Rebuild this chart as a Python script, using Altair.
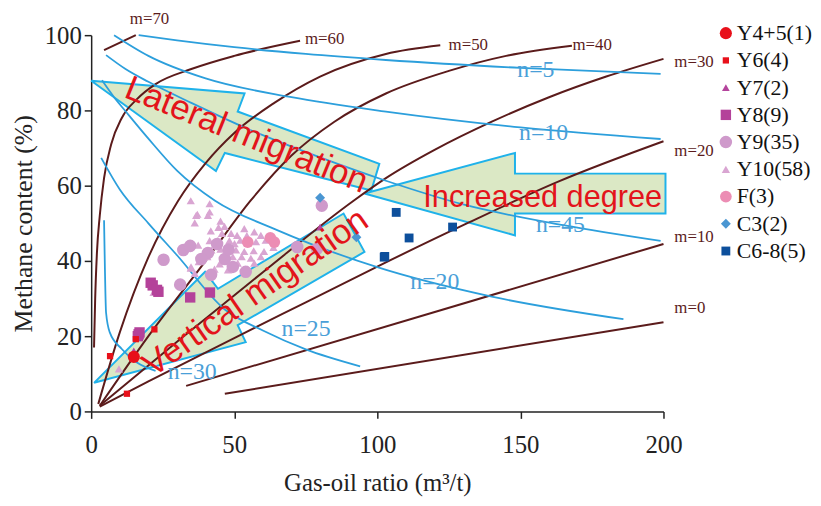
import altair as alt
import pandas as pd

# ---------------- data ----------------
X_TICKS = [0, 50, 100, 150, 200]
Y_TICKS = [0, 20, 40, 60, 80, 100]

# m-curves (gas-oil ratio, methane %)
M70 = [(4.5, 96.0), (15.6, 100.0)]
M60 = [(1.0, 17.0), (1.4, 30.0), (2.0, 42.0), (3.0, 52.0), (4.5, 62.0), (7.0, 71.0),
       (10.7, 78.0), (16.0, 83.0), (22.5, 87.0), (35.0, 91.0), (50.0, 94.5), (73.0, 98.5)]
M50 = [(2.5, 2.0), (10.0, 21.0), (20.0, 41.0), (30.4, 56.0), (40.0, 66.0), (50.0, 74.0),
       (64.0, 82.0), (80.0, 89.0), (103.0, 95.0), (122.0, 97.3)]
M40 = [(3.0, 1.5), (20.0, 20.0), (40.0, 40.0), (55.7, 56.0), (70.0, 68.0), (85.0, 77.0),
       (103.0, 84.5), (125.0, 90.5), (145.0, 94.5), (168.0, 97.2)]
M30 = [(3.0, 1.5), (30.0, 18.5), (60.0, 37.0), (91.7, 56.0), (103.0, 62.0), (120.0, 69.5),
       (140.0, 77.0), (160.0, 83.5), (180.0, 89.0), (200.0, 93.7)]
M20 = [(3.0, 1.3), (20.0, 8.0), (50.0, 19.5), (75.0, 29.0), (100.0, 38.5), (130.0, 49.5),
       (163.0, 61.0), (200.0, 71.8)]
M10 = [(33.2, 6.8), (200.0, 44.5)]
M0 = [(46.7, 4.7), (200.0, 23.7)]

# n-curves
N5 = [(16.6, 100.0), (30.0, 98.6), (50.0, 96.8), (75.0, 95.0), (103.0, 93.4), (150.0, 91.3), (199.0, 89.7)]
N10 = [(8.0, 100.0), (20.0, 94.5), (40.0, 88.5), (70.0, 83.5), (103.0, 79.7), (150.0, 75.5), (199.0, 72.4)]
N45 = [(5.2, 94.7), (12.0, 91.0), (20.0, 87.6), (35.0, 82.0), (55.0, 75.0), (80.0, 67.5),
       (103.0, 61.3), (130.0, 55.0), (165.0, 49.5), (199.0, 45.3)]
N20 = [(3.8, 88.0), (8.0, 83.5), (12.1, 79.7), (20.0, 72.5), (30.0, 64.0), (43.3, 56.0),
       (65.0, 48.2), (99.7, 38.4), (140.0, 30.5), (186.0, 24.5)]
N25 = [(3.5, 67.4), (10.0, 59.0), (20.0, 50.0), (30.0, 41.5), (46.7, 27.1), (60.0, 21.5),
       (75.0, 16.5), (94.0, 12.0)]
N30 = [(4.5, 50.8), (4.8, 38.0), (5.2, 26.3), (6.5, 21.0), (10.7, 16.6), (16.0, 13.0), (22.5, 10.8)]

# arrows (closed outlines)
ARROW_LATERAL = [(0.0, 87.9), (53.6, 84.5), (51.2, 79.7), (100.7, 65.8), (97.9, 58.7),
                 (46.7, 68.7), (43.6, 63.9), (0.0, 87.9)]
ARROW_DEGREE = [(95.5, 57.9), (148.1, 68.7), (148.1, 63.2), (200.7, 63.2), (200.7, 52.6),
                (148.1, 52.6), (148.1, 46.8), (95.5, 57.9)]
ARROW_VERTICAL = [(1.0, 7.6), (39.8, 37.1), (44.3, 32.6), (88.2, 52.6), (95.5, 42.4),
                  (51.2, 22.9), (54.0, 18.4), (1.0, 7.6)]

# samples
GROUPS = ["Y4+5(1)", "Y6(4)", "Y7(2)", "Y8(9)", "Y9(35)", "Y10(58)", "F(3)", "C3(2)", "C6-8(5)"]
COLORS = ["#e8101a", "#e8101a", "#b4449c", "#b4429a", "#cf9acb", "#d9a5d2", "#ec8db4", "#4a96d2", "#0d4f9c"]
SHAPES = ["circle", "square", "triangle-up", "square", "circle", "triangle-up", "circle", "diamond", "square"]
SIZES = [150, 40, 60, 110, 160, 70, 140, 100, 80]

Y10 = [(34.8, 56.0), (41.4, 55.2), (37.1, 52.4), (41.4, 53.0), (36.2, 50.1), (45.2, 50.6), (44.5, 48.9),
       (46.6, 49.2), (41.8, 48.0), (45.7, 47.3), (48.9, 47.3), (53.5, 48.6), (54.4, 46.7), (51.0, 46.8),
       (57.0, 47.7), (59.3, 46.8), (41.4, 45.4), (44.3, 45.5), (48.3, 45.4), (50.1, 44.6), (52.1, 45.5),
       (55.3, 45.5), (57.6, 45.1), (61.0, 45.5), (63.7, 43.6), (42.0, 42.9), (45.2, 43.1), (47.8, 42.9),
       (50.6, 42.9), (53.5, 42.5), (56.8, 42.7), (60.4, 42.5), (40.6, 41.1), (46.4, 41.3), (49.5, 41.1),
       (52.6, 41.1), (55.8, 40.7), (59.3, 41.1), (37.6, 39.8), (44.9, 39.2), (51.2, 39.4), (57.0, 39.4),
       (34.8, 38.1), (43.1, 37.8), (47.8, 37.6), (54.7, 37.8), (36.2, 36.7), (36.7, 52.1), (40.8, 52.1),
       (37.4, 44.2), (40.1, 42.1), (34.9, 38.4), (21.8, 31.6), (9.7, 11.3)]
Y9 = [(25.3, 40.3), (32.2, 42.9), (34.6, 44.0), (40.8, 42.1), (46.7, 40.5), (49.5, 38.4), (41.9, 36.3),
      (54.0, 37.1), (31.1, 33.7), (72.0, 43.7), (78.9, 43.2), (80.6, 54.7), (44.0, 44.5), (38.5, 40.5),
      (48.0, 43.0)]
F = [(54.7, 45.0), (62.6, 46.1), (64.0, 45.0)]
Y7 = [(14.9, 16.1), (80.0, 49.0)]
Y8 = [(16.6, 20.5), (20.8, 34.2), (23.5, 31.8), (34.6, 30.3), (41.5, 31.6), (16.3, 20.0), (21.5, 33.5),
      (23.0, 32.3), (16.9, 21.0)]
Y6 = [(6.6, 14.7), (22.1, 21.8), (12.5, 4.7), (15.6, 19.2)]
Y45 = [(14.9, 14.5)]
C3 = [(80.0, 56.8), (92.7, 46.3)]
C68 = [(106.6, 52.9), (111.1, 46.1), (126.3, 49.0), (102.4, 41.0), (102.6, 41.2)]

M_LABELS = [("m=70", 13.5, 104.2), ("m=60", 74.7, 98.9), ("m=50", 124.9, 97.4), ("m=40", 168.2, 97.4),
            ("m=30", 203.8, 92.9), ("m=20", 203.8, 69.2), ("m=10", 203.8, 46.3), ("m=0", 203.8, 27.4)]
N_LABELS = [("n=5", 155.4, 90.8), ("n=10", 158.1, 73.9), ("n=45", 164.0, 49.6), ("n=20", 120.1, 34.5),
            ("n=25", 75.1, 21.8), ("n=30", 35.3, 10.5)]

# ---------------- styles ----------------
BROWN = "#5b1b1b"
BLUE = "#2c9fdc"
CYAN = "#1fb2ea"
GREEN = "#dbe8c5"
RED = "#e3141b"
SERIF = "Liberation Serif"
SANS = "Liberation Sans"


def curves_df(named):
    rows = []
    for name, pts in named.items():
        for i, (x, y) in enumerate(pts):
            rows.append({"name": name, "idx": i, "x": x, "y": y})
    return pd.DataFrame(rows)


m_df = curves_df({"m70": M70, "m60": M60, "m50": M50, "m40": M40, "m30": M30, "m20": M20, "m10": M10, "m0": M0})
n_df = curves_df({"n5": N5, "n10": N10, "n45": N45, "n20": N20, "n25": N25, "n30": N30})
arrow_df = curves_df({"lat": ARROW_LATERAL, "deg": ARROW_DEGREE, "ver": ARROW_VERTICAL})

order_pts = [("Y10(58)", Y10), ("Y9(35)", Y9), ("F(3)", F), ("Y7(2)", Y7), ("Y8(9)", Y8),
             ("Y6(4)", Y6), ("Y4+5(1)", Y45), ("C3(2)", C3), ("C6-8(5)", C68)]
prow = []
k = 0
for g, pts in order_pts:
    for x, y in pts:
        prow.append({"group": g, "x": x, "y": y, "k": k})
        k += 1
pts_df = pd.DataFrame(prow)

mlab_df = pd.DataFrame(M_LABELS, columns=["text", "x", "y"])
nlab_df = pd.DataFrame(N_LABELS, columns=["text", "x", "y"])

xs = alt.Scale(domain=[0, 200], nice=False, zero=False)
ys = alt.Scale(domain=[0, 100], nice=False, zero=False)

xax = alt.Axis(values=X_TICKS, title="Gas-oil ratio (m³/t)", grid=False, labelFlush=False,
               labelOverlap=False, domainColor="#222", tickColor="#222", tickSize=7, domainWidth=1.5,
               tickWidth=1.5, labelFont=SERIF, labelFontSize=25, labelColor="#222", labelPadding=14,
               titleFont=SERIF, titleFontSize=25, titleFontWeight="normal", titleColor="#222", titlePadding=14)
yax = alt.Axis(values=Y_TICKS, title="Methane content (%)", grid=False, domainColor="#222", tickColor="#222",
               tickSize=7, domainWidth=1.5, tickWidth=1.5, labelFont=SERIF, labelFontSize=25, labelColor="#222",
               labelPadding=3, titleFont=SERIF, titleFontSize=26, titleFontWeight="normal", titleColor="#222",
               titlePadding=8)

X = alt.X("x:Q", scale=xs, axis=xax)
Y = alt.Y("y:Q", scale=ys, axis=yax)

arrows = alt.Chart(arrow_df).mark_line(fill=GREEN, stroke=CYAN, strokeWidth=2, strokeJoin="miter").encode(
    x=X, y=Y, detail="name:N", order="idx:Q")

m_lines = alt.Chart(m_df).mark_line(color=BROWN, strokeWidth=2, interpolate="monotone").encode(
    x=X, y=Y, detail="name:N", order="idx:Q")

n_lines = alt.Chart(n_df).mark_line(color=BLUE, strokeWidth=1.8, interpolate="monotone").encode(
    x=X, y=Y, detail="name:N", order="idx:Q")

leg = alt.Legend(title=None, orient="none", legendX=630, legendY=-13, labelFont=SERIF, labelFontSize=22,
                 labelColor="#111", labelOffset=0, rowPadding=5.5, padding=0, symbolStrokeWidth=0,
                 symbolOpacity=1, labelLimit=300)

points = alt.Chart(pts_df).mark_point(filled=True, opacity=1, strokeWidth=0).encode(
    x=X, y=Y,
    color=alt.Color("group:N", scale=alt.Scale(domain=GROUPS, range=COLORS), legend=leg),
    shape=alt.Shape("group:N", scale=alt.Scale(domain=GROUPS, range=SHAPES), legend=leg),
    size=alt.Size("group:N", scale=alt.Scale(type="ordinal", domain=GROUPS, range=SIZES), legend=leg),
    order="k:Q",
)


def arrow_text(txt, x, y, ang, size):
    d = pd.DataFrame({"text": [txt], "x": [x], "y": [y]})
    return alt.Chart(d).mark_text(font=SANS, fontSize=size, color=RED, angle=ang, align="center",
                                  baseline="middle").encode(x=X, y=Y, text="text:N")


t_lat = arrow_text("Lateral migration", 54.3, 73.5, 22, 35)
t_deg = arrow_text("Increased degree", 157.8, 56.8, 0, 31)
t_ver = arrow_text("Vertical migration", 57.4, 31.6, 325, 35)

m_text = alt.Chart(mlab_df).mark_text(font=SERIF, fontSize=17, color=BROWN, align="left",
                                      baseline="middle").encode(x=X, y=Y, text="text:N")
n_text = alt.Chart(nlab_df).mark_text(font=SERIF, fontSize=24, color="#4a9fd8", align="center",
                                      baseline="middle").encode(x=X, y=Y, text="text:N")

chart = alt.layer(arrows, m_lines, n_lines, points, t_lat, t_deg, t_ver, m_text, n_text).properties(
    width=578, height=380,
    autosize=alt.AutoSizeParams(type="none"),
    padding={"left": 84, "top": 25, "right": 151, "bottom": 85},
    background="white",
).configure_view(stroke=None)

chart.save("out.html", embed_options={"renderer": "svg", "actions": False})
